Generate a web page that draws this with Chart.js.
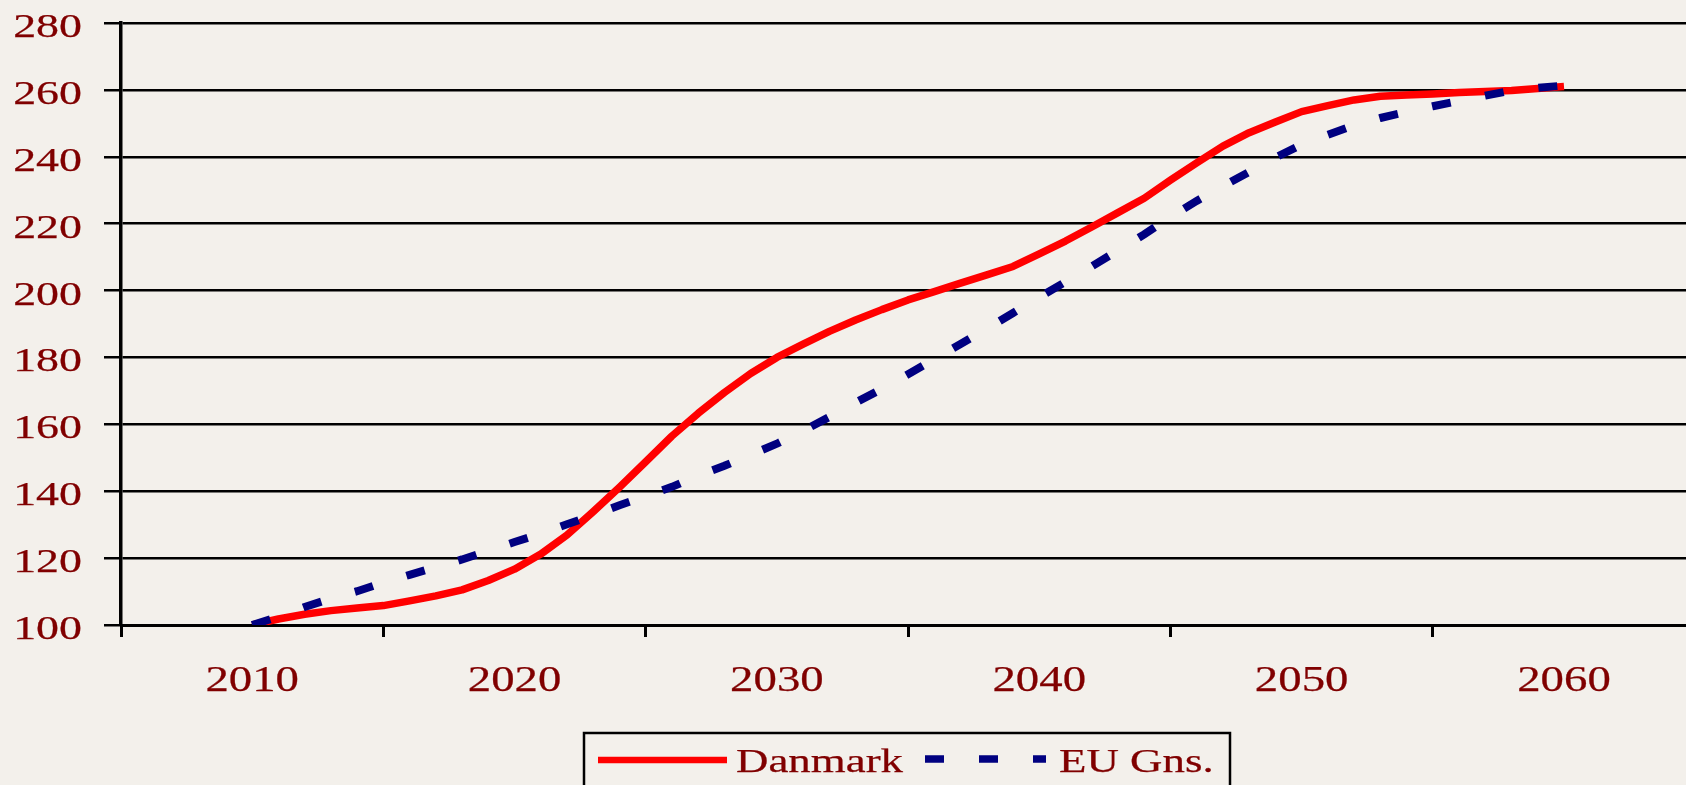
<!DOCTYPE html>
<html>
<head>
<meta charset="utf-8">
<script src="https://cdn.jsdelivr.net/npm/chart.js@4/dist/chart.umd.min.js"></script>
<style>
  html, body { margin: 0; padding: 0; background: #F3F0EB; overflow: hidden; }
  canvas { display: block; }
</style>
</head>
<body>
<canvas id="c" width="1686" height="785"></canvas>
<script>
// ---- data ----
const years = [2010,2011,2012,2013,2014,2015,2016,2017,2018,2019,
               2020,2021,2022,2023,2024,2025,2026,2027,2028,2029,
               2030,2031,2032,2033,2034,2035,2036,2037,2038,2039,
               2040,2041,2042,2043,2044,2045,2046,2047,2048,2049,
               2050,2051,2052,2053,2054,2055,2056,2057,2058,2059,2060];
const danmark = [100,101.8,103.2,104.3,105.1,105.8,107.2,108.7,110.5,113.3,
                 116.7,121.2,126.9,133.9,141.2,148.8,156.5,163.3,169.5,175.2,
                 180,184,187.8,191.2,194.3,197.2,199.7,202.2,204.7,207.2,
                 211,214.8,219,223.3,227.6,233,238.2,243.2,247.2,250.4,
                 253.5,255.3,257,258.1,258.5,258.8,259.2,259.5,259.8,260.4,261];
const euGns = [100,102.5,105.4,107.9,110.1,112.7,115,117.3,119.6,122.2,
               124.8,127.3,130.1,132.9,135.8,138.5,141.3,144.7,147.6,150.9,
               154.2,158.1,162.2,166.5,170.6,175,179.5,184,188.6,193.3,
               198,202.6,207.2,212,216.8,222,226.8,231.2,235.5,239.8,
               243.6,246.6,249.4,251.6,253.4,255.1,256.7,258.3,259.8,260.6,261.3];
const seriesNames = ['Danmark', 'EU Gns.'];
const yTickValues = [100,120,140,160,180,200,220,240,260,280];
const xTickMarks = [2005,2010,2015,2020,2025,2030,2035,2040,2045,2050,2055,2060];
const xTickLabels = ['2010','2020','2030','2040','2050','2060'];

// ---- style ----
const TEXT = '#800000';
const RED = '#FF0000';
const BLUE = '#000080';
const FONT = '"Liberation Serif", "Times New Roman", serif';

function stretchText(ctx, text, x, y, align, size, sx) {
  ctx.save();
  ctx.translate(x, y);
  ctx.scale(sx, 1);
  ctx.font = size + 'px ' + FONT;
  ctx.fillStyle = TEXT;
  ctx.strokeStyle = TEXT;
  ctx.lineWidth = 0.25;
  ctx.textAlign = align;
  ctx.textBaseline = 'alphabetic';
  ctx.fillText(text, 0, 0);
  ctx.strokeText(text, 0, 0);
  ctx.restore();
}

const bgPlugin = {
  id: 'bg',
  beforeDraw(chart) {
    const ctx = chart.ctx;
    ctx.save();
    ctx.fillStyle = '#F3F0EB';
    ctx.fillRect(0, 0, chart.width, chart.height);
    ctx.restore();
  }
};

const labelPlugin = {
  id: 'labels',
  afterDraw(chart) {
    const ctx = chart.ctx;
    const ys = chart.scales.y, xs = chart.scales.x;
    // y tick labels
    yTickValues.forEach(v => {
      stretchText(ctx, String(v), 82, ys.getPixelForValue(v) + 14, 'right', 34, 1.35);
    });
    // x tick labels
    xTickLabels.forEach(l => {
      stretchText(ctx, l, xs.getPixelForValue(Number(l)), 691, 'center', 36, 1.3);
    });
    // legend
    const ds = chart.data.datasets;
    ctx.save();
    ctx.fillStyle = '#F3F0EB';
    ctx.fillRect(584, 733, 646, 80);
    ctx.strokeStyle = '#000';
    ctx.lineWidth = 2.5;
    ctx.strokeRect(584, 733, 646, 80);
    // Danmark sample
    ctx.beginPath();
    ctx.strokeStyle = ds[0].borderColor;
    ctx.lineWidth = 6.5;
    ctx.setLineDash([]);
    ctx.moveTo(598, 760); ctx.lineTo(727, 760);
    ctx.stroke();
    // EU sample
    ctx.beginPath();
    ctx.strokeStyle = ds[1].borderColor;
    ctx.lineWidth = 7.5;
    ctx.setLineDash([19, 35]);
    ctx.moveTo(925, 759); ctx.lineTo(1046, 759);
    ctx.stroke();
    ctx.restore();
    stretchText(ctx, ds[0].label, 736, 772, 'left', 33.5, 1.34);
    stretchText(ctx, ds[1].label, 1059, 772, 'left', 33.5, 1.34);
  }
};

new Chart(document.getElementById('c'), {
  type: 'line',
  data: {
    datasets: [
      {
        label: seriesNames[0],
        data: years.map((y, i) => ({ x: y, y: danmark[i] })),
        borderColor: RED,
        borderWidth: 7.5,
        pointRadius: 0,
        tension: 0,
        borderJoinStyle: 'round',
        order: 1
      },
      {
        label: seriesNames[1],
        data: years.map((y, i) => ({ x: y, y: euGns[i] })),
        borderColor: BLUE,
        borderWidth: 8,
        borderDash: [19, 35],
        pointRadius: 0,
        tension: 0,
        order: 0
      }
    ]
  },
  options: {
    responsive: false,
    devicePixelRatio: 1,
    animation: false,
    layout: { padding: { top: 23, left: 0, right: 0, bottom: 0 } },
    plugins: { legend: { display: false }, tooltip: { enabled: false } },
    scales: {
      x: {
        type: 'linear',
        min: 2005,
        max: 2064.65,
        afterBuildTicks: s => { s.ticks = xTickMarks.map(v => ({ value: v })); },
        afterFit: s => { s.height = 160; },
        ticks: { display: false },
        grid: {
          drawOnChartArea: false,
          drawTicks: true,
          tickLength: 12,
          lineWidth: 3,
          color: c => (c.tick && c.tick.value % 10 === 5) ? '#000' : 'rgba(0,0,0,0)'
        },
        border: { display: true, color: '#000', width: 3 }
      },
      y: {
        type: 'linear',
        min: 100,
        max: 280,
        afterBuildTicks: s => { s.ticks = yTickValues.map(v => ({ value: v })); },
        afterFit: s => { s.width = 121; },
        ticks: { display: false },
        grid: {
          drawOnChartArea: true,
          drawTicks: true,
          tickLength: 17,
          lineWidth: 2.5,
          color: '#000'
        },
        border: { display: true, color: '#000', width: 3.5 }
      }
    }
  },
  plugins: [bgPlugin, labelPlugin]
});
</script>
</body>
</html>
